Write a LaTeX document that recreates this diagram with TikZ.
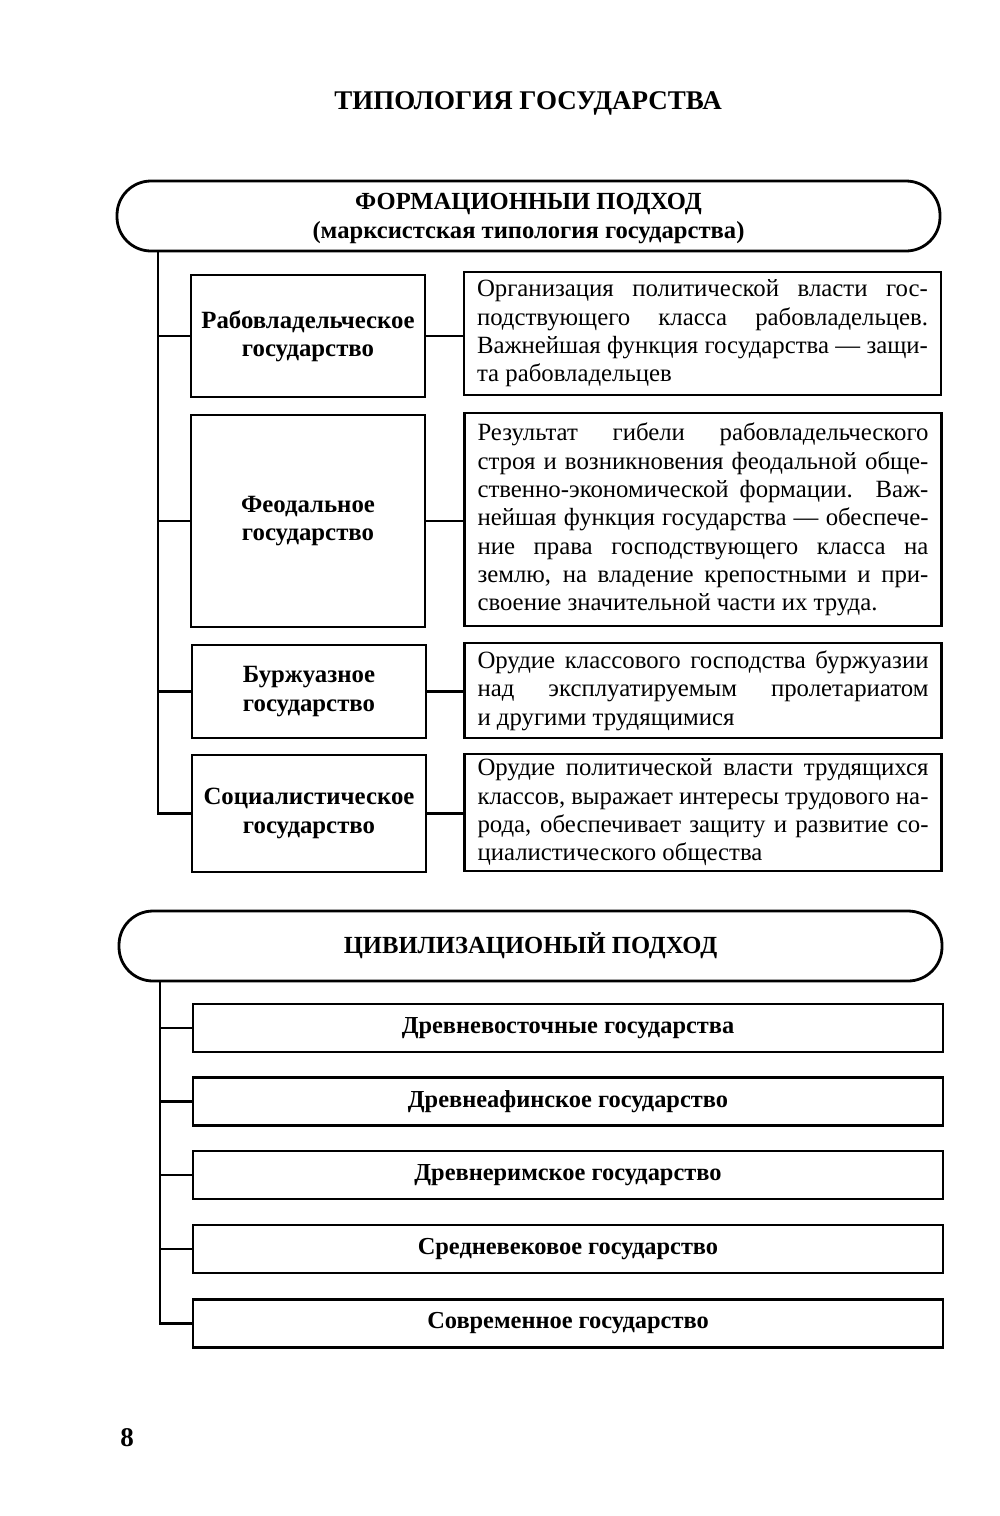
\documentclass[tikz,border=0pt]{standalone}
\usepackage{fontspec}
\setmainfont{Liberation Serif}
\newcommand\notepar[1]{\parbox{451pt}{\tolerance=9000 #1}}
\begin{document}
\begin{tikzpicture}[x=1pt, y=-1pt, line width=2.8pt,
  head/.style={draw, rounded corners=34pt, minimum width=823pt, minimum height=70pt, align=center, inner sep=0pt, font=\bfseries\fontsize{24.6}{29}\selectfont},
  kind/.style={draw, minimum width=234pt, align=center, inner sep=0pt, font=\bfseries\fontsize{24.8}{28.3}\selectfont},
  note/.style={draw, minimum width=477pt, inner xsep=13pt, inner ysep=0pt, font=\fontsize{24.8}{28.3}\selectfont},
  civ/.style={draw, minimum width=750pt, minimum height=48pt, inner sep=0pt, font=\bfseries\fontsize{24.4}{28}\selectfont}]
\useasboundingbox (0,0) rectangle (1000,1516);
\node[font=\bfseries\fontsize{27}{32}\selectfont] (title) at (528,103) {ТИПОЛОГИЯ ГОСУДАРСТВА};
% формационный подход
\node[head] (h1) at (528.5,216) {\rule{0pt}{22pt}ФОРМАЦИОННЫИ ПОДХОД\\(марксистская типология государства)};
\node[kind, minimum height=122pt] (a1) at (308,336) {Рабовладельческое\\государство};
\node[kind, minimum height=212pt] (a2) at (308,521) {Феодальное\\государство};
\node[kind, minimum height=93pt] (a3) at (309,691.5) {Буржуазное\\государство};
\node[kind, minimum height=117pt] (a4) at (309,813.5) {Социалистическое\\государство};
\node[note, minimum height=123pt] (b1) at (702.5,333.5) {\notepar{Организация политической власти гос-\linebreak подствующего класса рабовладельцев.\linebreak Важнейшая функция государства — защи-\linebreak та рабовладельцев}};
\node[note, minimum height=213pt] (b2) at (703,519.5) {\notepar{Результат гибели рабовладельческого\linebreak строя и возникновения феодальной обще-\linebreak ственно-экономической формации. Важ-\linebreak нейшая функция государства — обеспече-\linebreak ние права господствующего класса на\linebreak землю, на владение крепостными и при-\linebreak своение значительной части их труда.}};
\node[note, minimum height=95pt] (b3) at (703,690.5) {\notepar{Орудие классового господства буржуазии\linebreak над эксплуатируемым пролетариатом\linebreak и другими трудящимися}};
\node[note, minimum height=117pt] (b4) at (703,812.5) {\notepar{Орудие политической власти трудящихся\linebreak классов, выражает интересы трудового на-\linebreak рода, обеспечивает защиту и развитие со-\linebreak циалистического общества}};
\coordinate (top1) at (158,251);
\draw (top1) |- (a4.west);
\foreach \n in {1,2,3} \draw (top1 |- a\n.west) -- (a\n.west);
\foreach \n in {1,...,4} \draw (a\n.east) -- (a\n.east -| b\n.west);
% цивилизационный подход
\node[head] (h2) at (530.5,946) {ЦИВИЛИЗАЦИОНЫЙ ПОДХОД};
\node[civ] (c1) at (568,1028) {Древневосточные государства};
\node[civ] (c2) at (568,1101.5) {Древнеафинское государство};
\node[civ] (c3) at (568,1175) {Древнеримское государство};
\node[civ] (c4) at (568,1249) {Средневековое государство};
\node[civ] (c5) at (568,1323.5) {Современное государство};
\coordinate (top2) at (160,981);
\draw (top2) |- (c5.west);
\foreach \n in {1,...,4} \draw (top2 |- c\n.west) -- (c\n.west);
\node[font=\bfseries\fontsize{27}{32}\selectfont] (page) at (127,1438) {8};
\end{tikzpicture}
\end{document}
